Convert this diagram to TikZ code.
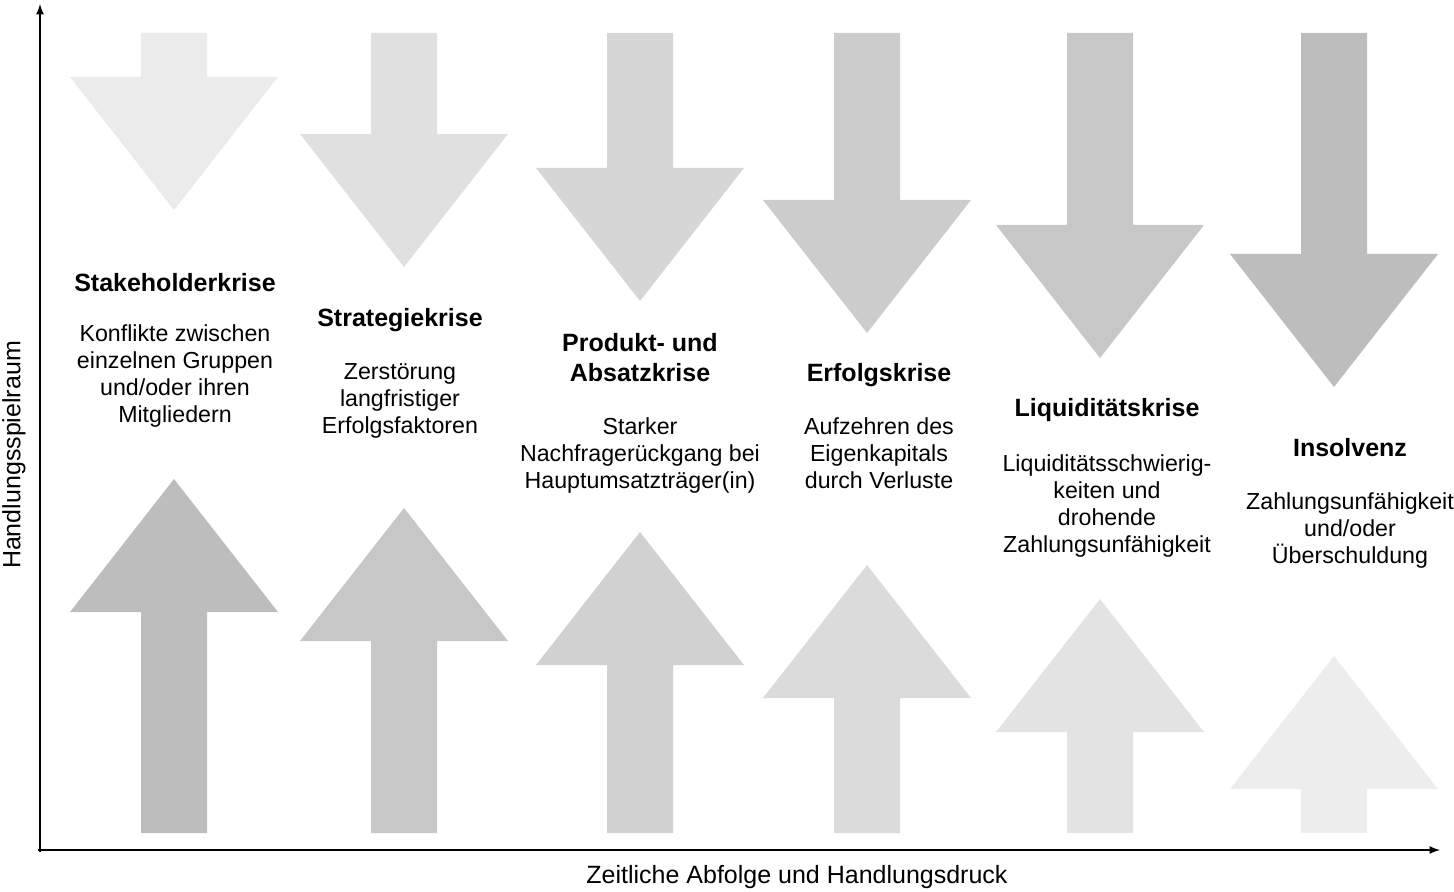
\documentclass[tikz,border=0pt]{standalone}
\usepackage{fontspec}
\setmainfont{Liberation Sans}
\usetikzlibrary{positioning}

\tikzset{
  crisis/.style={font=\fontsize{12.5}{15}\selectfont\bfseries,align=center,inner sep=0pt},
  cause/.style={font=\fontsize{11.6}{13.5}\selectfont,align=center,inner sep=0pt,anchor=north},
}

\begin{document}
\begin{tikzpicture}[x=0.5pt,y=-0.5pt]
		\useasboundingbox (0,0) rectangle (1454,892);
		\coordinate (origin) at (40,850);
		\coordinate (xend) at (1440,850);
		\coordinate (yend) at (40,4);
		\draw[thick,-latex] (origin) ++ (-2,0) -- (xend);
		\draw[thick,-latex] (origin) ++ (0,2) -- (yend);
		\node (xlabel) at (797,877) {\fontsize{12.5}{14}\selectfont Zeitliche Abfolge und Handlungsdruck};
		\node[rotate=90] (ylabel) at (14,455) {\fontsize{12.5}{14}\selectfont Handlungsspielraum};
		% Handlungsspielraum sinkt
		\foreach \c/\tip/\g in {174/210/8,404/267/12,640/301/16,867/333/20,1100/358/22,1334/387/26}
			\fill[fill=black!\g!white] (\c-33,33) -- (\c+33,33) -- (\c+33,\tip-133) -- (\c+104,\tip-133)
				-- (\c,\tip) -- (\c-104,\tip-133) -- (\c-33,\tip-133) -- cycle;
		% Handlungsdruck steigt
		\foreach \c/\tip/\g in {174/479/26,404/508/22,640/532/18,867/565/14,1100/599/11,1334/656/7}
			\fill[fill=black!\g!white] (\c-33,833) -- (\c+33,833) -- (\c+33,\tip+133) -- (\c+104,\tip+133)
				-- (\c,\tip) -- (\c-104,\tip+133) -- (\c-33,\tip+133) -- cycle;
		% Krisenarten
		\node[crisis] (stakeholder) at (175,283) {Stakeholderkrise};
		\node[cause] (stakeholdertext) at (175,324) {Konflikte zwischen\\einzelnen Gruppen\\und/oder ihren\\Mitgliedern};
		\node[crisis] (strategie) at (400,320) {Strategiekrise};
		\node[cause] (strategietext) at (400,363) {Zerstörung\\langfristiger\\Erfolgsfaktoren};
		\node[crisis] (produkt) at (640,358) {Produkt- und\\Absatzkrise};
		\node[cause] (produkttext) at (640,417) {Starker\\Nachfragerückgang bei\\Hauptumsatzträger(in)};
		\node[crisis] (erfolg) at (879,375) {Erfolgskrise};
		\node[cause] (erfolgtext) at (879,417) {Aufzehren des\\Eigenkapitals\\durch Verluste};
		\node[crisis] (liquiditaet) at (1107,410) {Liquiditätskrise};
		\node[cause] (liquiditaettext) at (1107,454) {Liquiditätsschwierig-\\keiten und\\drohende\\Zahlungsunfähigkeit};
		\node[crisis] (insolvenz) at (1350,448) {Insolvenz};
		\node[cause] (insolvenztext) at (1350,492) {Zahlungsunfähigkeit\\und/oder\\Überschuldung};
	\end{tikzpicture}
\end{document}
